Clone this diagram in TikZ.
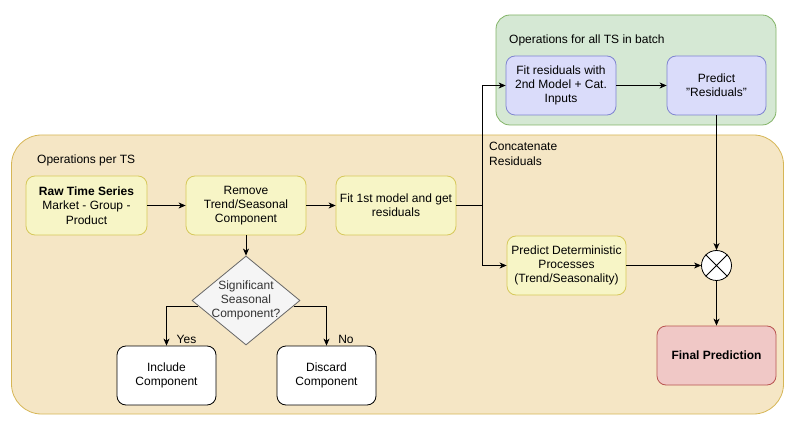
\documentclass[tikz,border=0pt]{standalone}
\usepackage{fontspec}
\setmainfont{Liberation Sans}
\usetikzlibrary{shapes.geometric,arrows.meta,calc}
\definecolor{orfill}{HTML}{F5E6C5}
\definecolor{orline}{HTML}{D6B656}
\definecolor{grfill}{HTML}{D5E8D4}
\definecolor{grline}{HTML}{82B366}
\definecolor{yefill}{HTML}{F7F5C6}
\definecolor{yeline}{HTML}{D6C85A}
\definecolor{blfill}{HTML}{DADCFA}
\definecolor{blline}{HTML}{7F84D0}
\definecolor{rdfill}{HTML}{F0C8C6}
\definecolor{rdline}{HTML}{B85450}
\definecolor{gyfill}{HTML}{F5F5F5}
\definecolor{gyline}{HTML}{666666}
\tikzset{
  txt/.style={font=\fontsize{12}{14.3}\selectfont, align=center},
  basebox/.style={txt, rectangle, rounded corners=9pt, line width=0.8pt, inner sep=2pt},
  ybox/.style={basebox, draw=yeline, fill=yefill},
  bbox/.style={basebox, draw=blline, fill=blfill},
  rbox/.style={basebox, draw=rdline, fill=rdfill},
  wbox/.style={basebox, draw=black, fill=white},
  lbl/.style={font=\fontsize{12}{14.3}\selectfont, inner sep=0pt},
  conn/.style={line width=0.8pt, -{Stealth[length=7pt,width=6pt,inset=2pt]}},
  plain/.style={line width=0.8pt},
}
\begin{document}
\begin{tikzpicture}[x=1pt,y=-1pt]
\useasboundingbox (0,0) rectangle (794,427);
% containers
\node[draw=orline, fill=orfill, line width=0.8pt, rounded corners=30pt, minimum width=772pt, minimum height=279pt, inner sep=0pt] (per) at (397.5,274.5) {};
\node[draw=grline, fill=grfill, line width=0.8pt, rounded corners=14pt, minimum width=280pt, minimum height=110pt, inner sep=0pt] (batch) at (636,70) {};
\node[lbl, anchor=west] (perlbl) at (37,160) {Operations per TS};
\node[lbl, anchor=west] (batchlbl) at (509,40) {Operations for all TS in batch};
\node[lbl, anchor=west, align=left, font=\fontsize{12}{15}\selectfont] (concat) at (489,153.5) {Concatenate\\Residuals};
% boxes
\node[ybox, minimum width=121pt, minimum height=59pt] (raw) at (86.5,205.5) {\textbf{Raw Time Series}\\Market - Group -\\Product};
\node[ybox, minimum width=120pt, minimum height=59pt] (remove) at (246,205.5) {Remove\\Trend/Seasonal\\Component};
\node[ybox, minimum width=120pt, minimum height=59pt] (fit1) at (396,205.5) {Fit 1st model and get\\residuals};
\node[bbox, minimum width=110pt, minimum height=59pt] (fitres) at (561,85.5) {Fit residuals with\\2nd Model + Cat.\\Inputs};
\node[bbox, minimum width=99pt, minimum height=59pt] (predres) at (716.5,85.5) {Predict\\\symbol{34}Residuals\symbol{34}};
\node[ybox, minimum width=119pt, minimum height=59pt] (preddet) at (566.5,265.5) {Predict Deterministic\\Processes\\(Trend/Seasonality)};
\node[draw=black, fill=white, circle, line width=0.8pt, minimum size=30pt, inner sep=0pt] (circ) at (716.5,265.5) {};
\draw[plain] (circ.north west) -- (circ.south east) (circ.north east) -- (circ.south west);
\node[rbox, minimum width=119pt, minimum height=59pt] (final) at (716.5,355.5) {\textbf{Final Prediction}};
\node[draw=gyline, fill=gyfill, diamond, line width=0.8pt, minimum width=108pt, minimum height=89pt, inner sep=0pt,
  label={[txt, text=black!80]center:Significant\\Seasonal\\Component?}] (dia) at (246,300.5) {};
\node[wbox, minimum width=99pt, minimum height=59pt] (inc) at (166.5,375.5) {Include\\Component};
\node[wbox, minimum width=99pt, minimum height=59pt] (dis) at (326.5,375.5) {Discard\\Component};
% connectors
\coordinate (split) at (482,205.5);
\draw[conn] (raw) -- (remove);
\draw[conn] (remove) -- (fit1);
\draw[plain] (fit1.east) -- (split);
\draw[conn] (split) |- (fitres.west);
\draw[conn] (split) |- (preddet.west);
\draw[conn] (fitres) -- (predres);
\draw[conn] (predres.south) -- (circ.north);
\draw[conn] (preddet.east) -- (circ.west);
\draw[conn] (circ.south) -- (final.north);
\draw[conn] (remove.south) -- (dia.north);
\draw[conn] ($(dia.west)!0.124!(dia.south)$) -| (inc.north);
\draw[conn] ($(dia.east)!0.124!(dia.south)$) -| (dis.north);
\node[lbl] (yes) at (186.5,339.5) {Yes};
\node[lbl] (no) at (346,339.5) {No};
\end{tikzpicture}
\end{document}
